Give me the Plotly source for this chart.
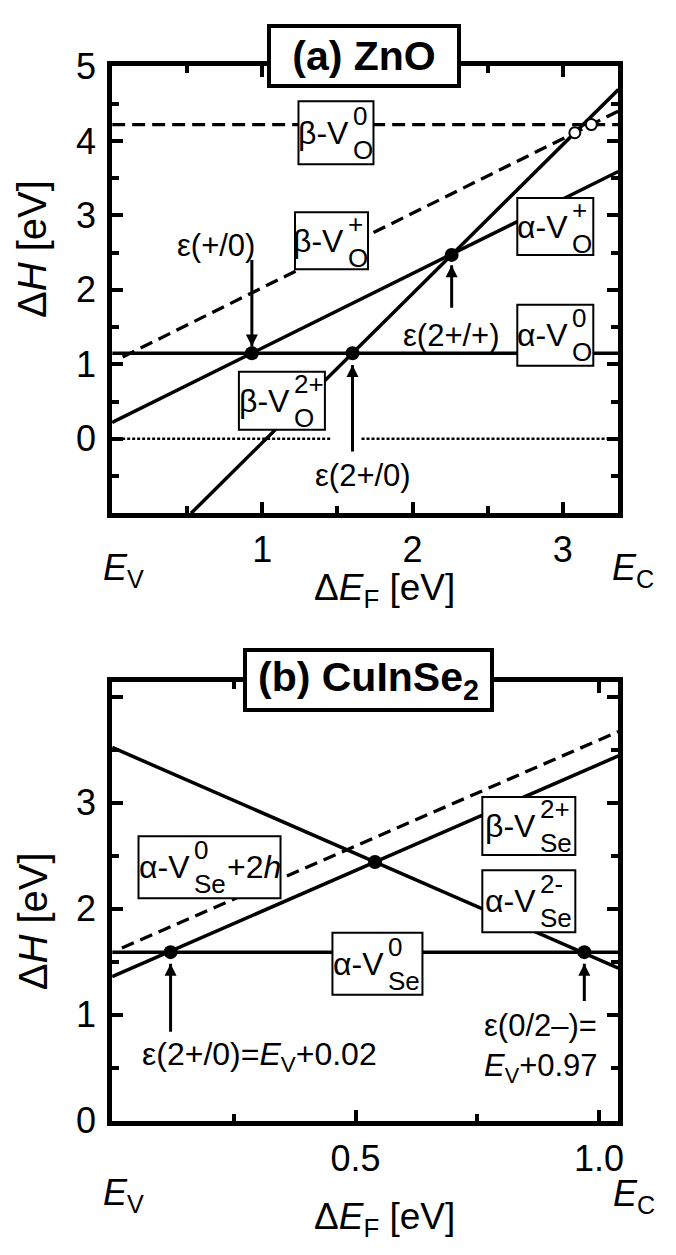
import plotly.graph_objects as go

W, H = 676, 1255
FONT = "Liberation Sans, Arial, sans-serif"

# ---------------- data: (a) ZnO ----------------
zno_gap = 3.37
zno_alpha0_x = [0.0, 3.37]
zno_alpha0_y = [1.15, 1.15]
zno_alphap_x = [0.0, 3.37]
zno_alphap_y = [0.22, 3.59]
zno_beta2p_x = [0.525, 3.37]
zno_beta2p_y = [-1.0, 4.69]
zno_betap_x = [0.07, 3.37]
zno_betap_y = [1.10, 4.40]
zno_beta0_x = [0.0, 3.37]
zno_beta0_y = [4.22, 4.22]
zno_zero_x = [0.0, 1.46, None, 1.66, 3.37]
zno_zero_y = [0.0, 0.0, None, 0.0, 0.0]
zno_eps_x = [0.93, 1.60, 2.26]
zno_eps_y = [1.15, 1.15, 2.47]
zno_beps_x = [3.08, 3.19]
zno_beps_y = [4.11, 4.22]
zno_xticks = [1, 2, 3]
zno_yticks = [0, 1, 2, 3, 4, 5]
# arrows: x, tail y, tip y
zno_arrow_x = [0.93, 1.60, 2.26]
zno_arrow_tail = [2.40, -0.17, 1.76]
zno_arrow_tip = [1.24, 0.99, 2.33]

# ---------------- data: (b) CuInSe2 ----------------
cis_gap = 1.04
cis_alpha0_x = [0.0, 1.04]
cis_alpha0_y = [1.59, 1.59]
cis_beta2p_x = [0.0, 1.04]
cis_beta2p_y = [1.36, 3.44]
cis_alpha2m_x = [0.0, 1.04]
cis_alpha2m_y = [3.52, 1.44]
cis_alpha0h_x = [0.02, 1.04]
cis_alpha0h_y = [1.63, 3.67]
cis_eps_x = [0.12, 0.54, 0.97]
cis_eps_y = [1.59, 2.44, 1.59]
cis_xticks = [0.5, 1.0]
cis_xticktext = ["0.5", "1.0"]
cis_yticks = [0, 1, 2, 3, 4]
cis_yticktext = ["0", "1", "2", "3", ""]
cis_arrow_x = [0.12, 0.97]
cis_arrow_tail = [0.84, 1.13]
cis_arrow_tip = [1.48, 1.48]

fig = go.Figure()


def add_line(x, y, xa, ya, dash=None, width=3.5):
    fig.add_trace(go.Scatter(x=x, y=y, mode="lines", xaxis=xa, yaxis=ya,
                             line=dict(color="black", width=width, dash=dash),
                             showlegend=False, hoverinfo="skip"))


def add_dots(x, y, xa, ya, hollow=False):
    if hollow:
        mk = dict(size=11, color="white", line=dict(color="black", width=2))
    else:
        mk = dict(size=14, color="black")
    fig.add_trace(go.Scatter(x=x, y=y, mode="markers", xaxis=xa, yaxis=ya,
                             marker=mk, showlegend=False, hoverinfo="skip",
                             cliponaxis=False))


def add_arrows(xs, tails, tips, xa, ya):
    for x, t0, t1 in zip(xs, tails, tips):
        add_line([x, x], [t0, t1], xa, ya, width=3)
        sym = "arrow-up" if t1 > t0 else "arrow-down"
        fig.add_trace(go.Scatter(x=[x], y=[t1], mode="markers", xaxis=xa, yaxis=ya,
                                 marker=dict(symbol=sym, size=12, color="black",
                                             line=dict(width=0)),
                                 showlegend=False, hoverinfo="skip"))


DASH = "13px,7px"
# panel (a)
add_line(zno_zero_x, zno_zero_y, "x", "y", dash="3px,2px", width=2.5)
add_line(zno_beta0_x, zno_beta0_y, "x", "y", dash=DASH, width=3.3)
add_line(zno_betap_x, zno_betap_y, "x", "y", dash=DASH, width=3.3)
add_line(zno_alpha0_x, zno_alpha0_y, "x", "y")
add_line(zno_alphap_x, zno_alphap_y, "x", "y")
add_line(zno_beta2p_x, zno_beta2p_y, "x", "y")
add_dots(zno_eps_x, zno_eps_y, "x", "y")
add_dots(zno_beps_x, zno_beps_y, "x", "y", hollow=True)
add_arrows(zno_arrow_x, zno_arrow_tail, zno_arrow_tip, "x", "y")
# panel (b)
add_line(cis_alpha0h_x, cis_alpha0h_y, "x2", "y2", dash=DASH, width=3.3)
add_line(cis_alpha0_x, cis_alpha0_y, "x2", "y2")
add_line(cis_beta2p_x, cis_beta2p_y, "x2", "y2")
add_line(cis_alpha2m_x, cis_alpha2m_y, "x2", "y2")
add_dots(cis_eps_x, cis_eps_y, "x2", "y2")
add_arrows(cis_arrow_x, cis_arrow_tail, cis_arrow_tip, "x2", "y2")

tickfont = dict(family=FONT, size=36, color="black")
common = dict(showline=True, linecolor="black", linewidth=5, mirror="ticks",
              ticks="inside", ticklen=11, tickwidth=4, tickcolor="black",
              showgrid=False, zeroline=False, tickfont=tickfont, fixedrange=True)


def minor(d):
    return dict(dtick=d, tick0=0, ticks="inside", ticklen=7, tickwidth=4,
                tickcolor="black", showgrid=False)


XDOM = [113 / W, 623 / W]
fig.update_layout(
    width=W, height=H, margin=dict(l=0, r=0, t=0, b=0),
    paper_bgcolor="white", plot_bgcolor="white", showlegend=False,
    xaxis=dict(domain=XDOM, range=[0, zno_gap], anchor="y", tickmode="array",
               tickvals=zno_xticks, minor=minor(0.5), **common),
    yaxis=dict(domain=[1 - 510 / H, 1 - 48 / H], range=[-1, 5], anchor="x",
               tickmode="array", tickvals=zno_yticks, minor=minor(0.5),
               ticklabelstandoff=4, **common),
    xaxis2=dict(domain=XDOM, range=[0, cis_gap], anchor="y2", tickmode="array",
                tickvals=cis_xticks, ticktext=cis_xticktext, minor=minor(0.25),
                ticklabelstandoff=2, **common),
    yaxis2=dict(domain=[1 - 1138 / H, 1 - 684 / H], range=[0, 4.14], anchor="x2",
                tickmode="array", tickvals=cis_yticks, ticktext=cis_yticktext,
                minor=minor(0.5), ticklabelstandoff=4, **common),
)

anns = []
shapes = []


def txt(xref, yref, x, y, text, size=31, xanchor="center", yanchor="middle",
        align="center", xshift=0, yshift=0, angle=0):
    anns.append(dict(xref=xref, yref=yref, x=x, y=y, text=text, showarrow=False,
                     font=dict(family=FONT, size=size, color="black"),
                     xanchor=xanchor, yanchor=yanchor, align=align,
                     xshift=xshift, yshift=yshift, textangle=angle))


def label(xref, yref, x, y, w, h, main, sup, sub, split, tail=None, stackw=0):
    shapes.append(dict(type="rect", xref=xref, yref=yref, xsizemode="pixel",
                       ysizemode="pixel", xanchor=x, yanchor=y,
                       x0=-w / 2, x1=w / 2, y0=-h / 2, y1=h / 2,
                       fillcolor="white", line=dict(color="black", width=2),
                       layer="above"))
    txt(xref, yref, x, y, main, size=32, xanchor="right", xshift=split)
    txt(xref, yref, x, y, sup + "<br>" + sub, size=26, xanchor="left",
        align="left", xshift=split)
    if tail:
        txt(xref, yref, x, y, tail, size=32, xanchor="left", xshift=split + stackw)


# panel (a) labels
label("x", "y", 1.49, 4.11, 75, 63, "β-V", "0", "O", 15)
label("x", "y", 1.46, 2.66, 73, 57, "β-V", "+", "O", 15)
label("x", "y", 2.95, 2.85, 76, 57, "α-V", "+", "O", 15)
label("x", "y", 2.95, 1.39, 76, 61, "α-V", "0", "O", 15)
label("x", "y", 1.13, 0.51, 86, 58, "β-V", "2+", "O", 10)
txt("x", "y", 0.69, 2.59, "ε(+/0)")
txt("x", "y", 1.67, -0.49, "ε(2+/0)")
txt("x", "y", 2.26, 1.39, "ε(2+/+)")

# panel (b) labels
label("x2", "y2", 0.20, 2.39, 142, 62, "α-V", "0", "Se", -18, tail="+2<i>h</i>", stackw=33)
label("x2", "y2", 0.856, 2.78, 93, 58, "β-V", "2+", "Se", 9)
label("x2", "y2", 0.856, 2.07, 93, 62, "α-V", "2-", "Se", 9)
label("x2", "y2", 0.545, 1.48, 90, 62, "α-V", "0", "Se", 9)
txt("x2", "y2", 0.057, 0.61, "ε(2+/0)=<i>E</i><sub>V</sub>+0.02", size=32,
    xanchor="left", align="left")
txt("x2", "y2", 0.76, 0.69, "ε(0/2–)=<br><i>E</i><sub>V</sub>+0.97",
    xanchor="left", align="left")

# titles (paper coords)
for cx, cy, w, t in [(367, 37, 186, "<b>(a) ZnO</b>"),
                     (371, 682, 243, "<b>(b) CuInSe<sub>2</sub></b>")]:
    anns.append(dict(xref="paper", yref="paper", x=cx / W, y=1 - cy / H, text=t,
                     showarrow=False, font=dict(family=FONT, size=41, color="black"),
                     width=w, height=56, bgcolor="white", bordercolor="black",
                     borderwidth=4, borderpad=0, xanchor="center", yanchor="middle"))

# axis titles and band-edge labels
for cy in (237, 932):
    txt("paper", "paper", 33 / W, 1 - cy / H, "Δ<i>H</i> [eV]", size=40, angle=-90)
for cy in (589, 1239):
    txt("paper", "paper", 387 / W, 1 - cy / H, "Δ<i>E</i><sub>F</sub> [eV]", size=37)
for (vx, vy, cx, cy) in [(124, 569, 638, 569), (124, 1215, 639, 1216)]:
    txt("paper", "paper", vx / W, 1 - vy / H, "<i>E</i><sub>V</sub>", size=36)
    txt("paper", "paper", cx / W, 1 - cy / H, "<i>E</i><sub>C</sub>", size=36)

fig.update_layout(annotations=anns, shapes=shapes)
fig.write_html("out.html")
